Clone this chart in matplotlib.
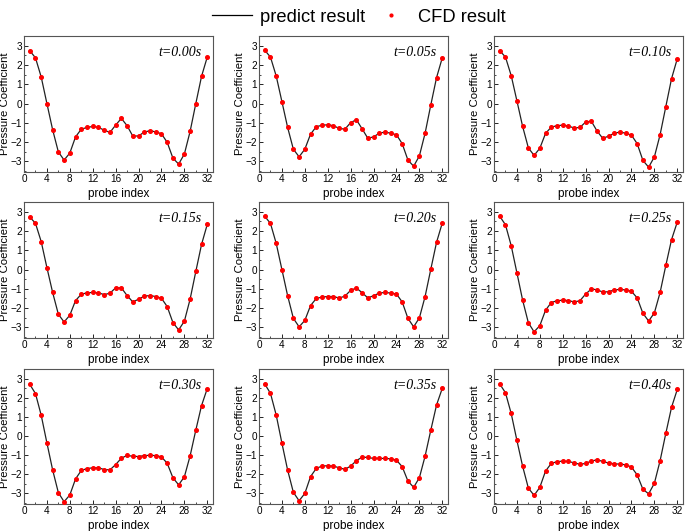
import numpy as np
import matplotlib.pyplot as plt
from matplotlib.lines import Line2D
from matplotlib.ticker import MultipleLocator

probe = np.arange(1, 33)
times = ["0.00", "0.05", "0.10", "0.15", "0.20", "0.25", "0.30", "0.35", "0.40"]

cp_000 = [2.74, 2.37, 1.38, 0.00, -1.36, -2.51, -2.93, -2.57, -1.73, -1.33, -1.24, -1.19, -1.24, -1.38, -1.50, -1.12,
          -0.77, -1.15, -1.69, -1.68, -1.48, -1.41, -1.47, -1.57, -2.01, -2.83, -3.14, -2.62, -1.45, 0.00, 1.41, 2.41]
cp_005 = [2.76, 2.41, 1.43, 0.10, -1.24, -2.37, -2.76, -2.37, -1.59, -1.20, -1.13, -1.10, -1.15, -1.29, -1.33, -0.99,
          -0.84, -1.31, -1.80, -1.73, -1.54, -1.48, -1.54, -1.62, -2.08, -2.93, -3.25, -2.72, -1.54, -0.07, 1.34, 2.37]
cp_010 = [2.74, 2.41, 1.45, 0.14, -1.19, -2.30, -2.69, -2.32, -1.55, -1.22, -1.15, -1.12, -1.17, -1.27, -1.24, -0.96,
          -0.92, -1.43, -1.81, -1.69, -1.54, -1.48, -1.54, -1.64, -2.08, -2.95, -3.30, -2.77, -1.62, -0.16, 1.29, 2.32]
cp_015 = [2.72, 2.40, 1.45, 0.10, -1.19, -2.32, -2.72, -2.37, -1.61, -1.28, -1.21, -1.19, -1.21, -1.30, -1.23, -0.95,
          -0.95, -1.35, -1.68, -1.54, -1.38, -1.35, -1.40, -1.49, -1.92, -2.75, -3.13, -2.68, -1.54, -0.10, 1.30, 2.34]
cp_020 = [2.76, 2.39, 1.36, 0.00, -1.36, -2.53, -2.97, -2.64, -1.87, -1.50, -1.43, -1.40, -1.40, -1.48, -1.38, -1.08,
          -0.96, -1.20, -1.47, -1.36, -1.22, -1.19, -1.22, -1.27, -1.68, -2.53, -2.97, -2.51, -1.40, 0.02, 1.41, 2.41]
cp_025 = [2.76, 2.32, 1.24, -0.17, -1.59, -2.76, -3.23, -2.91, -2.11, -1.71, -1.62, -1.59, -1.61, -1.68, -1.62, -1.27,
          -1.01, -1.05, -1.17, -1.15, -1.06, -1.03, -1.06, -1.13, -1.47, -2.27, -2.67, -2.25, -1.19, 0.21, 1.55, 2.46]
cp_030 = [2.70, 2.22, 1.09, -0.36, -1.77, -2.96, -3.43, -3.08, -2.24, -1.80, -1.70, -1.66, -1.66, -1.75, -1.77, -1.49,
          -1.16, -1.01, -1.06, -1.07, -1.02, -1.01, -1.02, -1.09, -1.42, -2.18, -2.55, -2.13, -1.04, 0.31, 1.59, 2.48]
cp_035 = [2.72, 2.23, 1.10, -0.37, -1.78, -2.94, -3.38, -3.00, -2.12, -1.69, -1.57, -1.55, -1.57, -1.66, -1.74, -1.57,
          -1.29, -1.10, -1.12, -1.17, -1.17, -1.17, -1.19, -1.26, -1.60, -2.35, -2.68, -2.18, -1.05, 0.31, 1.62, 2.49]
cp_040 = [2.72, 2.26, 1.18, -0.23, -1.58, -2.72, -3.10, -2.68, -1.83, -1.43, -1.34, -1.31, -1.33, -1.40, -1.48, -1.43,
          -1.31, -1.24, -1.33, -1.41, -1.45, -1.47, -1.50, -1.62, -2.03, -2.78, -3.02, -2.47, -1.29, 0.14, 1.50, 2.43]

all_cp = [cp_000, cp_005, cp_010, cp_015, cp_020, cp_025, cp_030, cp_035, cp_040]

plt.rcParams["font.family"] = ["Liberation Sans", "DejaVu Sans"]
fig = plt.figure(figsize=(6.85, 5.31), dpi=100)

W, H = 685, 531
lefts = [24, 259, 494]
rights = [213, 448, 683]
tops = [36, 202, 369]
bottoms = [172, 338, 504]

for i, cp in enumerate(all_cp):
    r, c = divmod(i, 3)
    ax = fig.add_axes([lefts[c] / W, 1 - bottoms[r] / H,
                       (rights[c] - lefts[c]) / W, (bottoms[r] - tops[r]) / H])
    ax.plot(probe, cp, color="#222222", lw=0.9, zorder=2)
    ax.plot(probe, cp, "o", color="red", ms=2.6, mec="red", zorder=3)
    ax.set_xlim(0, 33)
    ax.set_ylim(-3.55, 3.5)
    ax.xaxis.set_major_locator(MultipleLocator(4))
    ax.xaxis.set_minor_locator(MultipleLocator(2))
    ax.yaxis.set_major_locator(MultipleLocator(1))
    ax.yaxis.set_minor_locator(MultipleLocator(0.5))
    ax.tick_params(which="both", direction="in", labelsize=7.2, pad=1.5)
    ax.tick_params(which="major", length=3, width=0.6)
    ax.tick_params(which="minor", length=1.5, width=0.5)
    for s in ax.spines.values():
        s.set_color("#555555")
        s.set_linewidth(0.8)
    ax.set_xlabel("probe index", fontsize=8.5, labelpad=3)
    ax.set_ylabel("Pressure Coefficient", fontsize=8.2, labelpad=0.5)
    ax.text(0.94, 0.88, "t=" + times[i] + "s", transform=ax.transAxes, ha="right", va="center",
            fontsize=10, style="italic", family="Liberation Serif")

handles = [Line2D([], [], color="black", lw=0.9),
           Line2D([], [], ls="none", marker="o", color="red", ms=2)]
fig.legend(handles, ["predict result", "CFD result"], loc="upper center", bbox_to_anchor=(0.524, 1.015),
           ncol=2, frameon=False, fontsize=13.2, handlelength=2.2, handletextpad=0.4, columnspacing=0.3)

fig.savefig("out.png", dpi=100)
